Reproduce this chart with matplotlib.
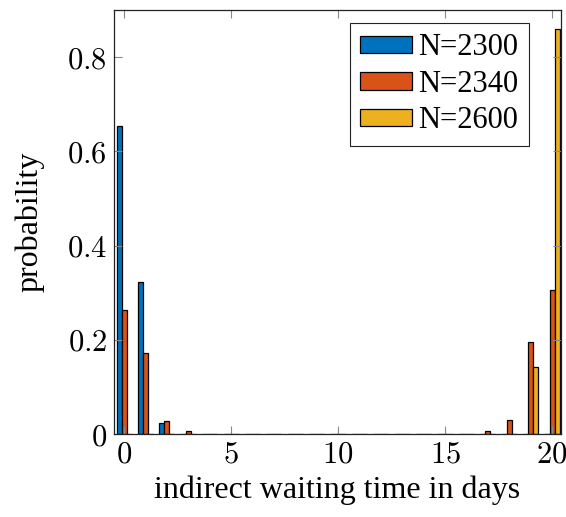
import numpy as np
import matplotlib as mpl
mpl.use('Agg')
import matplotlib.pyplot as plt

plt.rcParams['font.family'] = ['Liberation Serif', 'DejaVu Serif']
plt.rcParams['mathtext.fontset'] = 'cm'

days = np.arange(0, 21)
# probability of each indirect waiting time, per population size
p_2300 = [0.653, 0.323, 0.024, 0.001, 0.0008, 0.0008, 0.0008, 0.0008, 0.0008,
          0.0008, 0.0008, 0.0008, 0.0008, 0.0008, 0.0008, 0.0008, 0.0008,
          0.0, 0.0, 0.0, 0.0]
p_2340 = [0.264, 0.172, 0.027, 0.006, 0.001, 0.0008, 0.0008, 0.0008, 0.0008,
          0.0008, 0.0008, 0.0008, 0.0008, 0.0008, 0.0008, 0.0008, 0.001,
          0.006, 0.030, 0.195, 0.306]
p_2600 = [0.0, 0.0, 0.0, 0.0, 0.0, 0.0, 0.0, 0.0, 0.0, 0.0, 0.0, 0.0, 0.0,
          0.0, 0.0, 0.0, 0.0, 0.0, 0.0, 0.143, 0.860]
series = [('N=2300', p_2300, '#0072BD'),
          ('N=2340', p_2340, '#D95319'),
          ('N=2600', p_2600, '#EDB120')]
xticks = [0, 5, 10, 15, 20]
yticks = [0, 0.2, 0.4, 0.6, 0.8]

fig = plt.figure(figsize=(5.66, 5.17), dpi=100)
ax = fig.add_axes([0.2014, 0.1605, 0.7898, 0.8201])

w = 0.235
for i, (name, vals, col) in enumerate(series):
    ax.bar(days + (i - 1) * w, vals, width=w, color=col, edgecolor='black',
           linewidth=0.9, label=name)

ax.set_xlim(-0.47, 20.42)
ax.set_ylim(0, 0.9)
ax.set_xticks(xticks)
ax.set_xticklabels([f'${t}$' for t in xticks])
ax.set_yticks(yticks)
ax.set_yticklabels([f'${t:g}$' for t in yticks])
ax.tick_params(direction='in', top=True, right=True, length=6,
               color='#888888', labelsize=22, pad=5)
for s in ax.spines.values():
    s.set_linewidth(0.9)
    s.set_color('#222222')

ax.set_xlabel('indirect waiting time in days', fontsize=23, labelpad=4)
ax.set_ylabel('probability', fontsize=23, labelpad=16)

leg = ax.legend(loc='upper right', fontsize=22, fancybox=False,
                edgecolor='#222222', framealpha=1, handlelength=1.7,
                handleheight=0.5, handletextpad=0.2, borderpad=0.35,
                labelspacing=0.24, borderaxespad=0,
                bbox_to_anchor=(0.929, 0.97))
leg.get_frame().set_linewidth(0.8)

plt.savefig('out.png', dpi=100)
